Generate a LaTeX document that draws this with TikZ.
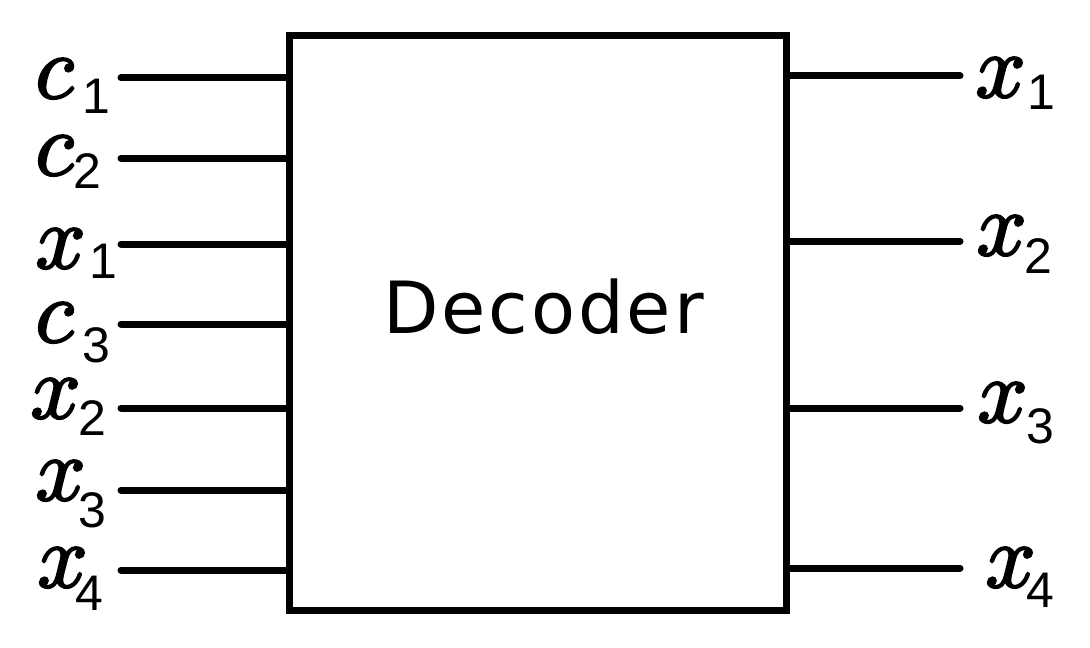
\documentclass[tikz,border=0pt]{standalone}
\usepackage{fix-cm}
\usepackage{fontspec}
\newfontfamily\subfont{Liberation Sans}
\newfontfamily\blockfont[LetterSpace=4]{DejaVu Sans}
\newcommand\sig[4]{\special{pdf:literal direct 2 Tr 1.2 w}$#1$\special{pdf:literal direct 0 Tr}\kern#3pt\raisebox{-#4pt}{\subfont\fontsize{25}{25}\selectfont #2}}

\begin{document}
\begin{tikzpicture}[x=0.5pt,y=-0.5pt,line width=3.5pt,
    lbl/.style={inner sep=0pt,anchor=base west,font=\fontsize{45}{50}\selectfont},
    wire/.style={line cap=round},
    block/.style={draw,inner sep=0pt,minimum width=248.5pt,minimum height=287pt}]
    \useasboundingbox (0,0) rectangle (1090,647);
    \node[block] (dec) at (537.5,323) {};
    \node[inner sep=0pt,anchor=base west,font=\blockfont\fontsize{36}{40}\selectfont] (name) at (380,333) {Decoder};
    \coordinate (i1) at (121,78);
    \coordinate (i2) at (121,158);
    \coordinate (i3) at (121,244);
    \coordinate (i4) at (121,324);
    \coordinate (i5) at (121,408);
    \coordinate (i6) at (121,490);
    \coordinate (i7) at (121,570);
    \coordinate (o1) at (960,76);
    \coordinate (o2) at (960,241);
    \coordinate (o3) at (960,408);
    \coordinate (o4) at (960,568);
    \node[lbl] (c1)  at (32,98)  {\sig{c}{1}{4.5}{7.5}};
    \node[lbl] (c2)  at (32,175) {\sig{c}{2}{0}{6.5}};
    \node[lbl] (xi1) at (32,268) {\sig{x}{1}{2}{5}};
    \node[lbl] (c3)  at (32,342) {\sig{c}{3}{4.5}{10}};
    \node[lbl] (xi2) at (27,418) {\sig{x}{2}{-1}{8.5}};
    \node[lbl] (xi3) at (32,500) {\sig{x}{3}{-3.5}{13.5}};
    \node[lbl] (xi4) at (34,587) {\sig{x}{4}{-6}{11.5}};
    \node[lbl] (xo1) at (972,97)  {\sig{x}{1}{1}{6.5}};
    \node[lbl] (xo2) at (973,255) {\sig{x}{2}{-1}{9}};
    \node[lbl] (xo3) at (974,422) {\sig{x}{3}{-0.5}{10.5}};
    \node[lbl] (xo4) at (982,587) {\sig{x}{4}{-4.5}{10}};
    \draw[wire] (i1) -- (i1 -| dec.west);
    \draw[wire] (i2) -- (i2 -| dec.west);
    \draw[wire] (i3) -- (i3 -| dec.west);
    \draw[wire] (i4) -- (i4 -| dec.west);
    \draw[wire] (i5) -- (i5 -| dec.west);
    \draw[wire] (i6) -- (i6 -| dec.west);
    \draw[wire] (i7) -- (i7 -| dec.west);
    \draw[wire] (o1 -| dec.east) -- (o1);
    \draw[wire] (o2 -| dec.east) -- (o2);
    \draw[wire] (o3 -| dec.east) -- (o3);
    \draw[wire] (o4 -| dec.east) -- (o4);
\end{tikzpicture}
\end{document}
